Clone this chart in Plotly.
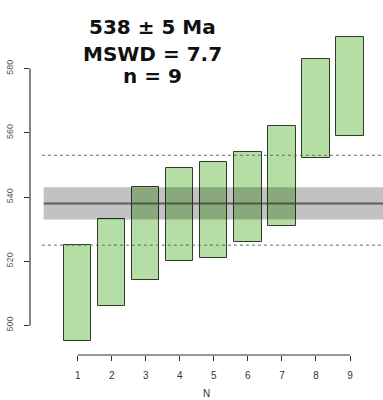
import plotly.graph_objects as go

# Single-grain ages (Ma), lower and upper ends of each error bar
grain = [1, 2, 3, 4, 5, 6, 7, 8, 9]
age_low = [495, 506, 514, 520, 521, 526, 531, 552, 559]
age_high = [525, 533, 543, 549, 551, 554, 562, 583, 590]

# Weighted mean and its uncertainty, plus the dispersion envelope
mean_age = 538
mean_err = 5
mswd = 7.7
env_low = 525
env_high = 553

y_ticks = [500, 520, 540, 560, 580]
x_ticks = grain

BAR_FILL = "#b4dea4"
BAR_EDGE = "#2f3b2c"

fig = go.Figure()

fig.add_trace(go.Bar(
    x=grain,
    base=age_low,
    y=[h - l for l, h in zip(age_low, age_high)],
    width=0.8,
    marker=dict(color=BAR_FILL, line=dict(color=BAR_EDGE, width=1)),
    hoverinfo="skip",
    showlegend=False,
))

shapes = []
# confidence band of the weighted mean, drawn over the bars
shapes.append(dict(type="rect", xref="x", yref="y", x0=0, x1=10,
                   y0=mean_age - mean_err, y1=mean_age + mean_err,
                   fillcolor="rgba(0,0,0,0.24)", line=dict(width=0), layer="above"))
shapes.append(dict(type="line", xref="x", yref="y", x0=0, x1=10,
                   y0=mean_age, y1=mean_age,
                   line=dict(color="rgba(60,60,60,0.75)", width=2), layer="above"))
# dispersion envelope
for v in (env_low, env_high):
    shapes.append(dict(type="line", xref="x", yref="y", x0=-0.05, x1=10,
                       y0=v, y1=v,
                       line=dict(color="#666666", width=1, dash="dot"), layer="above"))
# R-style axis lines spanning only the tick range
shapes.append(dict(type="line", xref="paper", yref="y", x0=0, x1=0,
                   y0=y_ticks[0], y1=y_ticks[-1],
                   line=dict(color="#333333", width=1.2)))
shapes.append(dict(type="line", xref="x", yref="paper", x0=x_ticks[0], x1=x_ticks[-1],
                   y0=0, y1=0,
                   line=dict(color="#333333", width=1.2)))

annotations = []
stats = [f"{mean_age} \u00b1 {mean_err} Ma", f"MSWD = {mswd}", f"n = {len(grain)}"]
for txt, yv in zip(stats, [593.0, 584.4, 577.6]):
    annotations.append(dict(text=txt, x=3.2, y=yv, xref="x", yref="y",
                            showarrow=False, xanchor="center", yanchor="middle",
                            font=dict(family="DejaVu Sans", size=20, color="#111111",
                                      weight="bold")))

fig.update_layout(
    width=383, height=400, autosize=False,
    margin=dict(l=30, r=0, t=0, b=45),
    paper_bgcolor="white", plot_bgcolor="white",
    bargap=0,
    shapes=shapes,
    annotations=annotations,
    font=dict(family="Liberation Sans", color="#444444"),
    xaxis=dict(range=[-0.401, 9.969], tickvals=x_ticks, ticks="outside",
               ticklen=5, tickcolor="#333333", tickwidth=1.2,
               ticklabelstandoff=6,
               showline=False, showgrid=False, zeroline=False,
               tickfont=dict(size=10, color="#333333"),
               title=dict(text="N", font=dict(size=10, color="#333333"), standoff=9),
               automargin=False),
    yaxis=dict(range=[490.78, 601.37], tickvals=y_ticks, ticks="outside",
               ticklen=5, tickcolor="#333333", tickwidth=1.2, tickangle=-90,
               ticklabelstandoff=7,
               showline=False, showgrid=False, zeroline=False,
               tickfont=dict(size=9, color="#555555"),
               automargin=False),
)

fig.write_html("out.html")
